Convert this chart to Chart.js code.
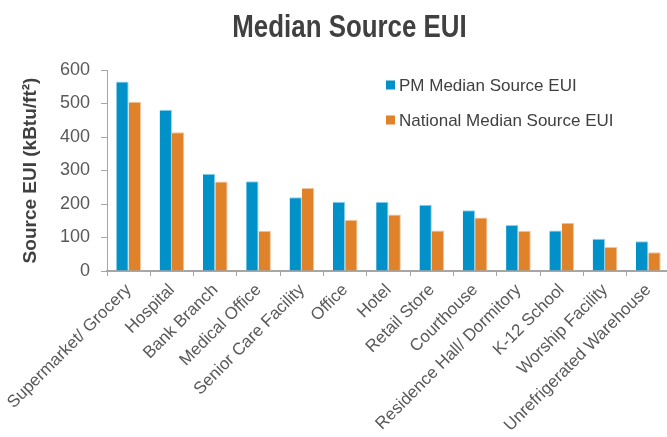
<!DOCTYPE html>
<html>
<head>
<meta charset="utf-8">
<script src="https://cdn.jsdelivr.net/npm/chart.js@4.4.0/dist/chart.umd.min.js"></script>
<style>
  html, body { margin: 0; padding: 0; background: #ffffff; overflow: hidden; }
  #wrap { width: 670px; height: 437px; }
</style>
</head>
<body>
<div id="wrap"><canvas id="c" width="670" height="437"></canvas></div>
<script>
const categories = [
  "Supermarket/ Grocery", "Hospital", "Bank Branch", "Medical Office",
  "Senior Care Facility", "Office", "Hotel", "Retail Store", "Courthouse",
  "Residence Hall/ Dormitory", "K-12 School", "Worship Facility",
  "Unrefrigerated Warehouse"
];
const pmMedian = [566, 481, 290, 268, 220, 207, 207, 198, 181, 137, 121, 96, 89];
const nationalMedian = [505, 414, 267, 120, 248, 153, 169, 121, 160, 120, 144, 72, 56];
const seriesNames = ["PM Median Source EUI", "National Median Source EUI"];
const yTicks = [0, 100, 200, 300, 400, 500, 600];
const chartTitle = "Median Source EUI";

const BLUE = "#0091C9", BLUE_EDGE = "#8FD0EC";
const ORANGE = "#E0822A", ORANGE_EDGE = "#F3C59C";
const AXIS = "#A6A6A6";

const titleAndLegend = {
  id: "titleAndLegend",
  afterDraw(chart) {
    const ctx = chart.ctx;
    ctx.save();
    // title (condensed bold)
    ctx.font = "bold 31px 'Liberation Sans', Arial, sans-serif";
    ctx.fillStyle = "#404040";
    ctx.textAlign = "center";
    ctx.textBaseline = "alphabetic";
    ctx.save();
    ctx.translate(349.5, 37);
    ctx.scale(0.835, 1);
    ctx.fillText(chartTitle, 0, 0);
    ctx.restore();
    // legend
    ctx.font = "17px 'Liberation Sans', Arial, sans-serif";
    ctx.textBaseline = "middle";
    ctx.textAlign = "left";
    const ys = [85, 120];
    chart.data.datasets.forEach((ds, i) => {
      ctx.fillStyle = ds.backgroundColor;
      ctx.fillRect(386, ys[i] - 4.5, 9, 9);
      ctx.fillStyle = "#404040";
      ctx.fillText(ds.label, 399, ys[i] + 1);
    });
    ctx.restore();
  }
};

new Chart(document.getElementById("c"), {
  type: "bar",
  data: {
    labels: categories,
    datasets: [
      { label: seriesNames[0], data: pmMedian, backgroundColor: BLUE,
        borderColor: BLUE_EDGE, borderWidth: { top: 1, right: 1, left: 0, bottom: 0 } },
      { label: seriesNames[1], data: nationalMedian, backgroundColor: ORANGE,
        borderColor: ORANGE_EDGE, borderWidth: { top: 1, right: 1, left: 0, bottom: 0 } }
    ]
  },
  options: {
    responsive: false,
    animation: false,
    devicePixelRatio: 1,
    layout: { padding: { left: 0, right: 0, top: 70, bottom: 0 } },
    datasets: { bar: { categoryPercentage: 0.57, barPercentage: 1.0 } },
    plugins: {
      legend: { display: false },
      tooltip: { enabled: false },
      title: { display: false }
    },
    scales: {
      x: {
        offset: true,
        grid: { display: true, offset: true, drawOnChartArea: false, drawTicks: true, tickLength: 5, color: AXIS, lineWidth: 1 },
        border: { display: true, color: AXIS, width: 2 },
        ticks: {
          minRotation: 45, maxRotation: 45, autoSkip: false, padding: 4,
          color: "#595959",
          font: { family: "'Liberation Sans', Arial, sans-serif", size: 17 }
        },
        afterFit(scale) {
          scale.height = 166;
          scale.paddingLeft = 0;
          scale.paddingRight = 0;
        }
      },
      y: {
        min: 0, max: 600,
        afterBuildTicks(scale) { scale.ticks = yTicks.map(v => ({ value: v })); },
        grid: { display: true, drawOnChartArea: false, drawTicks: true, tickLength: 6, color: AXIS, lineWidth: 1 },
        border: { display: true, color: AXIS, width: 1 },
        ticks: {
          padding: 11,
          color: "#595959",
          font: { family: "'Liberation Sans', Arial, sans-serif", size: 18 }
        },
        title: {
          display: true,
          text: "Source EUI (kBtu/ft²)",
          color: "#404040",
          font: { family: "'Liberation Sans', Arial, sans-serif", size: 19, weight: "bold" },
          padding: { top: 19, bottom: 0 }
        },
        afterFit(scale) { scale.width = 107; }
      }
    }
  },
  plugins: [titleAndLegend]
});
</script>
</body>
</html>
